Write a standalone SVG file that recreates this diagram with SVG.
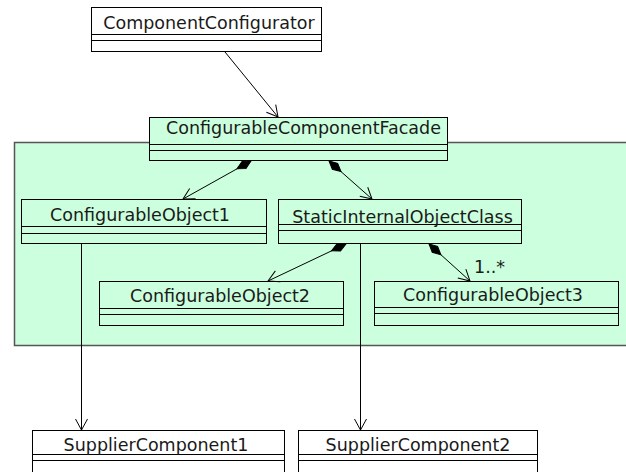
<svg xmlns="http://www.w3.org/2000/svg" width="626" height="472" viewBox="0 0 626 472">
<style>
.box{stroke:#000;stroke-width:1;fill:#fff}
.gbox{stroke:#000;stroke-width:1;fill:#ccffdd}
.tbox{stroke:#000;stroke-width:1;fill:none}
.div{stroke:#000;stroke-width:1}
.lbl{font-family:"DejaVu Sans","Liberation Sans",sans-serif;font-size:17.5px;fill:#1a1a1a;text-anchor:middle}
.conn line{stroke:#000;stroke-width:1;fill:none}
</style>
<defs>
<marker id="arr" markerUnits="userSpaceOnUse" markerWidth="14" markerHeight="14" refX="11" refY="6" orient="auto" overflow="visible">
<path d="M0,0 L11,6 L0,12" fill="none" stroke="#000" stroke-width="1"/>
</marker>
<marker id="dia" markerUnits="userSpaceOnUse" markerWidth="18" markerHeight="10" refX="0" refY="4" orient="auto" overflow="visible">
<path d="M0,4 L8,0 L16,4 L8,8 z" fill="#000" stroke="#000" stroke-width="1"/>
</marker>
</defs>
<rect id="package" x="14.5" y="142.5" width="640" height="203" fill="#ccffdd" stroke="#555" stroke-width="1.5"/>
<g id="ComponentConfigurator">
<rect class="box" x="91.5" y="7.5" width="230" height="44"/>
<line class="div" x1="91.5" y1="34.5" x2="321.5" y2="34.5"/>
<line class="div" x1="91.5" y1="40.5" x2="321.5" y2="40.5"/>
<text class="lbl" x="209" y="29">ComponentConfigurator</text>
</g>
<g id="ConfigurableComponentFacade">
<rect class="gbox" x="149.5" y="117.5" width="298" height="43" stroke-width="1.5"/>
<line class="div" x1="149.5" y1="144.5" x2="447.5" y2="144.5"/>
<line class="div" x1="149.5" y1="150.5" x2="447.5" y2="150.5"/>
<text class="lbl" x="303.5" y="134">ConfigurableComponentFacade</text>
</g>
<g id="ConfigurableObject1">
<rect class="tbox" x="21.5" y="199.5" width="245" height="44"/>
<line class="div" x1="21.5" y1="226.5" x2="266.5" y2="226.5"/>
<line class="div" x1="21.5" y1="233.5" x2="266.5" y2="233.5"/>
<text class="lbl" x="140" y="220.5">ConfigurableObject1</text>
</g>
<g id="StaticInternalObjectClass">
<rect class="tbox" x="278.5" y="199.5" width="243" height="44"/>
<line class="div" x1="278.5" y1="224.5" x2="521.5" y2="224.5"/>
<line class="div" x1="278.5" y1="230.5" x2="521.5" y2="230.5"/>
<text class="lbl" x="402.5" y="223">StaticInternalObjectClass</text>
</g>
<g id="ConfigurableObject2">
<rect class="tbox" x="99.5" y="281.5" width="244" height="44"/>
<line class="div" x1="99.5" y1="308.5" x2="343.5" y2="308.5"/>
<line class="div" x1="99.5" y1="314.5" x2="343.5" y2="314.5"/>
<text class="lbl" x="220" y="302">ConfigurableObject2</text>
</g>
<g id="ConfigurableObject3">
<rect class="tbox" x="374.5" y="281.5" width="244" height="44"/>
<line class="div" x1="374.5" y1="307.5" x2="618.5" y2="307.5"/>
<line class="div" x1="374.5" y1="313.5" x2="618.5" y2="313.5"/>
<text class="lbl" x="493" y="301">ConfigurableObject3</text>
</g>
<g id="SupplierComponent1">
<rect class="box" x="32.5" y="430.5" width="252" height="50"/>
<line class="div" x1="32.5" y1="454.5" x2="284.5" y2="454.5"/>
<line class="div" x1="32.5" y1="460.5" x2="284.5" y2="460.5"/>
<text class="lbl" x="156" y="450.5">SupplierComponent1</text>
</g>
<g id="SupplierComponent2">
<rect class="box" x="298.5" y="430.5" width="239" height="50"/>
<line class="div" x1="298.5" y1="454.5" x2="537.5" y2="454.5"/>
<line class="div" x1="298.5" y1="460.5" x2="537.5" y2="460.5"/>
<text class="lbl" x="418" y="450.5">SupplierComponent2</text>
</g>
<g id="connectors" class="conn">
<line x1="225" y1="52" x2="278" y2="117" marker-end="url(#arr)"/>
<line x1="251" y1="161" x2="183" y2="199" marker-start="url(#dia)" marker-end="url(#arr)"/>
<line x1="329" y1="161" x2="372" y2="199" marker-start="url(#dia)" marker-end="url(#arr)"/>
<line x1="346" y1="244" x2="268" y2="281" marker-start="url(#dia)" marker-end="url(#arr)"/>
<line x1="429" y1="244" x2="470" y2="281" marker-start="url(#dia)" marker-end="url(#arr)"/>
<line x1="81.5" y1="244" x2="81.5" y2="430" marker-end="url(#arr)"/>
<line x1="360.5" y1="244" x2="360.5" y2="430" marker-end="url(#arr)"/>
</g>
<text class="lbl" x="474" y="273" style="text-anchor:start">1..*</text>
</svg>
